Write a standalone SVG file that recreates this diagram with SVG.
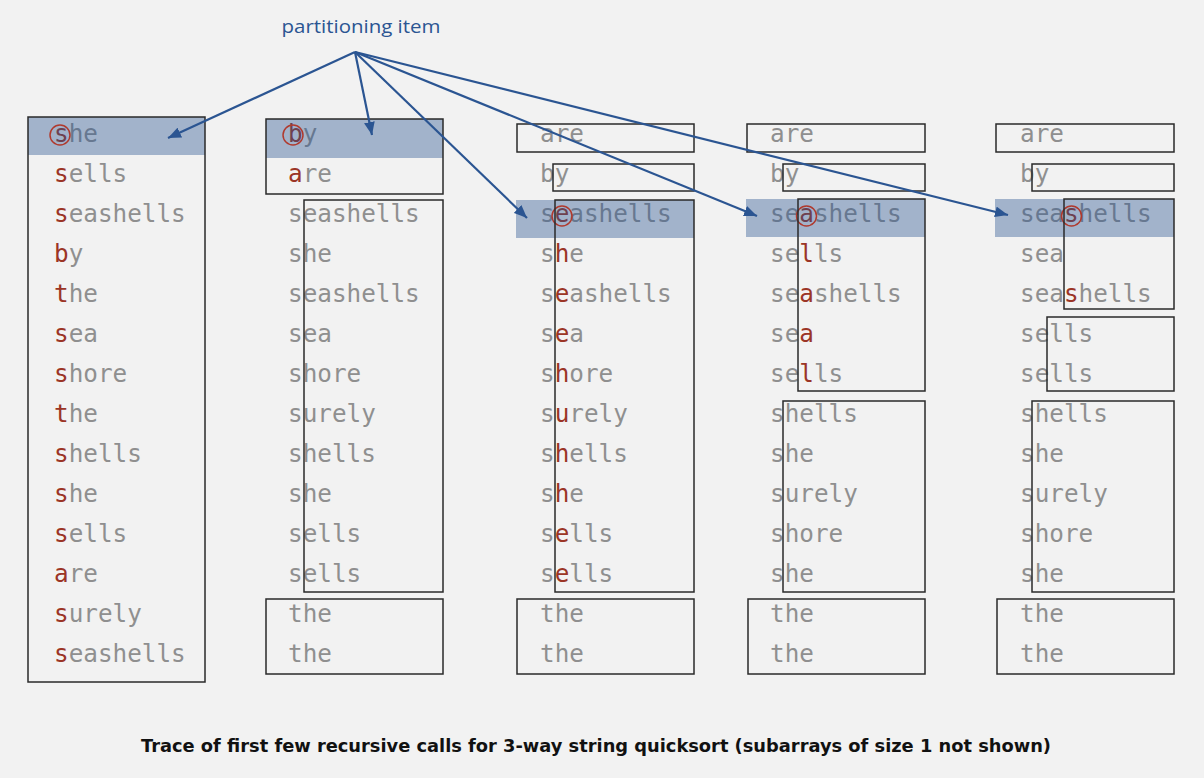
<svg xmlns="http://www.w3.org/2000/svg" width="1204" height="778" viewBox="0 0 1204 778">
<style>
.bg{fill:#f2f2f2}
.t{font-family:"DejaVu Sans Mono","Liberation Mono",monospace;font-size:24.3px;fill:#8f8f8f}
.r{fill:#9b3526}
.box{fill:none;stroke:#2a2a2a;stroke-width:1.5}
.hl{fill:#2b5592;fill-opacity:0.4}
.circ{fill:none;stroke:#b03a2e;stroke-width:1.5}
.arr{fill:none;stroke:#2b5592;stroke-width:2.2}
.lbl{font-family:"Open Sans","DejaVu Sans",sans-serif;font-size:18px;fill:#2b5592}
.cap{font-family:"DejaVu Sans","Open Sans",sans-serif;font-size:18px;font-weight:bold;fill:#111}
</style>
<defs>
<marker id="ah" viewBox="0 0 12 10" refX="12" refY="5" markerWidth="13" markerHeight="11" markerUnits="userSpaceOnUse" orient="auto">
<path d="M0,0 L12,5 L0,10 Z" fill="#2b5592"/>
</marker>
</defs>
<rect class="bg" x="0" y="0" width="1204" height="778"/>

<g id="col1">
<text class="t" x="54" y="142"><tspan class="r">s</tspan>he</text>
<text class="t" x="54" y="182"><tspan class="r">s</tspan>ells</text>
<text class="t" x="54" y="222"><tspan class="r">s</tspan>eashells</text>
<text class="t" x="54" y="262"><tspan class="r">b</tspan>y</text>
<text class="t" x="54" y="302"><tspan class="r">t</tspan>he</text>
<text class="t" x="54" y="342"><tspan class="r">s</tspan>ea</text>
<text class="t" x="54" y="382"><tspan class="r">s</tspan>hore</text>
<text class="t" x="54" y="422"><tspan class="r">t</tspan>he</text>
<text class="t" x="54" y="462"><tspan class="r">s</tspan>hells</text>
<text class="t" x="54" y="502"><tspan class="r">s</tspan>he</text>
<text class="t" x="54" y="542"><tspan class="r">s</tspan>ells</text>
<text class="t" x="54" y="582"><tspan class="r">a</tspan>re</text>
<text class="t" x="54" y="622"><tspan class="r">s</tspan>urely</text>
<text class="t" x="54" y="662"><tspan class="r">s</tspan>eashells</text>
<rect class="hl" x="28" y="117" width="177" height="38"/>
<circle class="circ" cx="60" cy="135" r="10"/>
<rect class="box" x="28" y="117" width="177" height="565"/>
</g>

<g id="col2">
<text class="t" x="288" y="142"><tspan class="r">b</tspan>y</text>
<text class="t" x="288" y="182"><tspan class="r">a</tspan>re</text>
<text class="t" x="288" y="222">seashells</text>
<text class="t" x="288" y="262">she</text>
<text class="t" x="288" y="302">seashells</text>
<text class="t" x="288" y="342">sea</text>
<text class="t" x="288" y="382">shore</text>
<text class="t" x="288" y="422">surely</text>
<text class="t" x="288" y="462">shells</text>
<text class="t" x="288" y="502">she</text>
<text class="t" x="288" y="542">sells</text>
<text class="t" x="288" y="582">sells</text>
<text class="t" x="288" y="622">the</text>
<text class="t" x="288" y="662">the</text>
<rect class="hl" x="266" y="119" width="177" height="39"/>
<circle class="circ" cx="293" cy="135" r="10"/>
<rect class="box" x="266" y="119" width="177" height="75"/>
<rect class="box" x="304" y="200" width="139" height="392"/>
<rect class="box" x="266" y="599" width="177" height="75"/>
</g>

<g id="col3">
<text class="t" x="540" y="142">are</text>
<text class="t" x="540" y="182">by</text>
<text class="t" x="540" y="222">s<tspan class="r">e</tspan>ashells</text>
<text class="t" x="540" y="262">s<tspan class="r">h</tspan>e</text>
<text class="t" x="540" y="302">s<tspan class="r">e</tspan>ashells</text>
<text class="t" x="540" y="342">s<tspan class="r">e</tspan>a</text>
<text class="t" x="540" y="382">s<tspan class="r">h</tspan>ore</text>
<text class="t" x="540" y="422">s<tspan class="r">u</tspan>rely</text>
<text class="t" x="540" y="462">s<tspan class="r">h</tspan>ells</text>
<text class="t" x="540" y="502">s<tspan class="r">h</tspan>e</text>
<text class="t" x="540" y="542">s<tspan class="r">e</tspan>lls</text>
<text class="t" x="540" y="582">s<tspan class="r">e</tspan>lls</text>
<text class="t" x="540" y="622">the</text>
<text class="t" x="540" y="662">the</text>
<rect class="hl" x="516" y="200" width="178" height="38"/>
<circle class="circ" cx="562" cy="216" r="10"/>
<rect class="box" x="517" y="124" width="177" height="28"/>
<rect class="box" x="553" y="164" width="141" height="27"/>
<rect class="box" x="555" y="200" width="139" height="392"/>
<rect class="box" x="517" y="599" width="177" height="75"/>
</g>

<g id="col4">
<text class="t" x="770" y="142">are</text>
<text class="t" x="770" y="182">by</text>
<text class="t" x="770" y="222">se<tspan class="r">a</tspan>shells</text>
<text class="t" x="770" y="262">se<tspan class="r">l</tspan>ls</text>
<text class="t" x="770" y="302">se<tspan class="r">a</tspan>shells</text>
<text class="t" x="770" y="342">se<tspan class="r">a</tspan></text>
<text class="t" x="770" y="382">se<tspan class="r">l</tspan>ls</text>
<text class="t" x="770" y="422">shells</text>
<text class="t" x="770" y="462">she</text>
<text class="t" x="770" y="502">surely</text>
<text class="t" x="770" y="542">shore</text>
<text class="t" x="770" y="582">she</text>
<text class="t" x="770" y="622">the</text>
<text class="t" x="770" y="662">the</text>
<rect class="hl" x="746" y="199" width="179" height="38"/>
<circle class="circ" cx="806.5" cy="216" r="10"/>
<rect class="box" x="747" y="124" width="178" height="28"/>
<rect class="box" x="783" y="164" width="142" height="27"/>
<rect class="box" x="798" y="199" width="127" height="192"/>
<rect class="box" x="783" y="401" width="142" height="191"/>
<rect class="box" x="748" y="599" width="177" height="75"/>
</g>

<g id="col5">
<text class="t" x="1020" y="142">are</text>
<text class="t" x="1020" y="182">by</text>
<text class="t" x="1020" y="222">sea<tspan class="r">s</tspan>hells</text>
<text class="t" x="1020" y="262">sea</text>
<text class="t" x="1020" y="302">sea<tspan class="r">s</tspan>hells</text>
<text class="t" x="1020" y="342">sells</text>
<text class="t" x="1020" y="382">sells</text>
<text class="t" x="1020" y="422">shells</text>
<text class="t" x="1020" y="462">she</text>
<text class="t" x="1020" y="502">surely</text>
<text class="t" x="1020" y="542">shore</text>
<text class="t" x="1020" y="582">she</text>
<text class="t" x="1020" y="622">the</text>
<text class="t" x="1020" y="662">the</text>
<rect class="hl" x="995" y="199" width="179" height="38"/>
<circle class="circ" cx="1071.5" cy="216" r="10"/>
<rect class="box" x="996" y="124" width="178" height="28"/>
<rect class="box" x="1032" y="164" width="142" height="27"/>
<rect class="box" x="1064" y="199" width="110" height="110"/>
<rect class="box" x="1047" y="317" width="127" height="74"/>
<rect class="box" x="1032" y="401" width="142" height="191"/>
<rect class="box" x="997" y="599" width="177" height="75"/>
</g>

<g id="label">
<text class="lbl" x="361" y="33" text-anchor="middle" textLength="159" lengthAdjust="spacingAndGlyphs">partitioning item</text>
</g>

<g id="connectors">
<line class="arr" x1="355" y1="52" x2="168" y2="138" marker-end="url(#ah)"/>
<line class="arr" x1="355" y1="52" x2="372" y2="135" marker-end="url(#ah)"/>
<line class="arr" x1="355" y1="52" x2="527" y2="218" marker-end="url(#ah)"/>
<line class="arr" x1="355" y1="52" x2="757" y2="216" marker-end="url(#ah)"/>
<line class="arr" x1="355" y1="52" x2="1008" y2="215" marker-end="url(#ah)"/>
</g>

<g id="caption">
<text class="cap" x="596" y="752" text-anchor="middle" textLength="910" lengthAdjust="spacingAndGlyphs">Trace of first few recursive calls for 3-way string quicksort (subarrays of size 1 not shown)</text>
</g>
</svg>
